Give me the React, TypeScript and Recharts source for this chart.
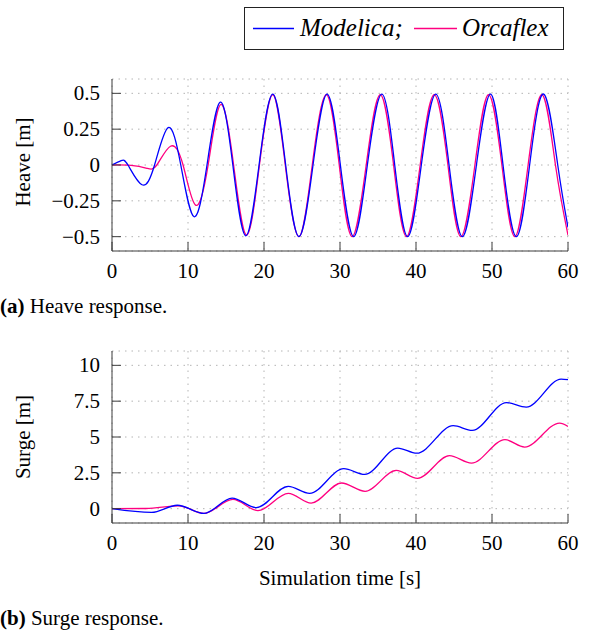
import React from "react";
import { LineChart, Line, XAxis, YAxis, CartesianGrid } from "recharts";

// axis ticks
const timeTicks = [0, 10, 20, 30, 40, 50, 60];
const heaveTicks = [-0.5, -0.25, 0, 0.25, 0.5];
const surgeTicks = [0, 2.5, 5, 7.5, 10];

// heave [m] (peaks, troughs, zero crossings)
const heaveModelicaTime = [
  0, 1.2, 2.1, 3.95, 5.6, 7.4, 9.05, 10.8, 12.5, 14.25, 15.9, 17.6, 19.35, 21.15, 22.85, 24.6, 26.45, 28.3,
  30.05, 31.8, 33.6, 35.5, 37.2, 38.9, 40.7, 42.6, 44.35, 46.1, 47.95, 49.8, 51.45, 53.2, 54.95, 56.8, 58.65, 60,
];
const heaveModelica = [
  0, 0.03, 0, -0.138, 0, 0.261, 0, -0.361, 0, 0.438, 0, -0.494, 0, 0.494, 0, -0.499, 0, 0.494,
  0, -0.5, 0, 0.495, 0, -0.5, 0, 0.495, 0, -0.5, 0, 0.495, 0, -0.5, 0, 0.495, 0, -0.436,
];
const heaveOrcaflexTime = [
  0, 2.5, 4.6, 5.9, 7.7, 9.35, 11.0, 12.65, 14.3, 16.0, 17.7, 19.4, 21.15, 22.8, 24.6, 26.35, 28.2, 29.9,
  31.6, 33.45, 35.3, 37.05, 38.75, 40.55, 42.4, 44.2, 45.9, 47.75, 49.55, 51.3, 53.0, 54.75, 56.6, 58.35, 60,
];
const heaveOrcaflex = [
  0, -0.003, -0.023, 0, 0.131, 0, -0.28, 0, 0.422, 0, -0.49, 0, 0.49, 0, -0.5, 0, 0.49, 0,
  -0.5, 0, 0.49, 0, -0.5, 0, 0.49, 0, -0.5, 0, 0.49, 0, -0.5, 0, 0.49, 0, -0.49,
];

// surge [m] (local peaks and troughs)
const surgeModelicaTime = [0, 5.2, 8.6, 12.1, 15.8, 19.0, 23.2, 26.0, 30.5, 33.25, 37.6, 40.1, 44.9, 47.4, 51.9, 54.5, 59.1, 60];
const surgeModelica = [0, -0.26, 0.24, -0.33, 0.74, 0.07, 1.56, 1.07, 2.79, 2.39, 4.23, 3.87, 5.79, 5.46, 7.4, 7.09, 9.04, 9.0];
const surgeOrcaflexTime = [0, 4.5, 8.8, 12.1, 15.9, 19.2, 23.2, 26.2, 30.2, 33.3, 37.4, 40.2, 44.4, 47.3, 51.7, 54.3, 58.9, 60];
const surgeOrcaflex = [0, 0.01, 0.2, -0.33, 0.65, -0.14, 1.07, 0.39, 1.79, 1.21, 2.67, 2.11, 3.7, 3.18, 4.81, 4.3, 5.97, 5.74];

const FONT = '"Liberation Serif", "Times New Roman", serif';
const BLUE = "#0000ff";
const PINK = "#ff0080";
const FRAME = "#3c3c3c";
const GRID = "#b4b4b4";
const TICK_LEN = 9;
const X_LABEL_GAP = 27;
const Y_LABEL_GAP = 12;

const zip = (ts: number[], vs: number[]) => ts.map((t, i) => ({ t, v: vs[i] }));
const fmt = (v: number) => (v < 0 ? "\u2212" + Math.abs(v) : String(v));

function BottomTick({ x, y, payload }: any) {
  const axisY = y - X_LABEL_GAP;
  return (
    <g>
      <line x1={x} x2={x} y1={axisY} y2={axisY - TICK_LEN} stroke={FRAME} strokeWidth={1} />
      <text x={x} y={y} textAnchor="middle" fontSize={21} fontFamily={FONT} fill="#000">
        {fmt(payload.value)}
      </text>
    </g>
  );
}

function TopTick({ x, y }: any) {
  return <line x1={x} x2={x} y1={y} y2={y + TICK_LEN} stroke={FRAME} strokeWidth={1} />;
}

function LeftTick({ x, y, payload }: any) {
  const axisX = x + Y_LABEL_GAP;
  return (
    <g>
      <line x1={axisX} x2={axisX + TICK_LEN} y1={y} y2={y} stroke={FRAME} strokeWidth={1} />
      <text x={x} y={y} dy={7} textAnchor="end" fontSize={21} fontFamily={FONT} fill="#000">
        {fmt(payload.value)}
      </text>
    </g>
  );
}

function RightTick({ x, y }: any) {
  return <line x1={x} x2={x - TICK_LEN} y1={y} y2={y} stroke={FRAME} strokeWidth={1} />;
}

function yLabel(text: string, shift: number) {
  return {
    content: ({ viewBox }: any) => {
      const cx = 23;
      const cy = viewBox.y + viewBox.height / 2 + shift;
      return (
        <text
          x={cx}
          y={cy}
          transform={`rotate(-90 ${cx} ${cy})`}
          textAnchor="middle"
          dy={7}
          fontSize={21}
          fontFamily={FONT}
          fill="#000"
        >
          {text}
        </text>
      );
    },
  };
}

function Panel({
  top,
  height,
  marginTop,
  domain,
  ticks,
  label,
  labelShift,
  modelica,
  orcaflex,
  curve,
  xLabel,
}: any) {
  return (
    <div style={{ position: "absolute", left: 0, top }}>
      <LineChart width={592} height={height} margin={{ top: marginTop, right: 24, bottom: 0, left: 12 }}>
        <CartesianGrid xAxisId="bottom" yAxisId="left" stroke={GRID} strokeDasharray="1.5 5" />
        <XAxis
          xAxisId="bottom"
          dataKey="t"
          type="number"
          domain={[0, 60]}
          ticks={timeTicks}
          allowDataOverflow
          height={height - marginTop - 172}
          tickSize={0}
          tickMargin={X_LABEL_GAP}
          tickLine={false}
          axisLine={{ stroke: FRAME }}
          tick={BottomTick}
          label={
            xLabel
              ? {
                  content: ({ viewBox }: any) => (
                    <text
                      x={viewBox.x + viewBox.width / 2}
                      y={viewBox.y + 62}
                      textAnchor="middle"
                      fontSize={21}
                      fontFamily={FONT}
                      fill="#000"
                    >
                      {xLabel}
                    </text>
                  ),
                }
              : undefined
          }
        />
        <XAxis
          xAxisId="top"
          orientation="top"
          dataKey="t"
          type="number"
          domain={[0, 60]}
          ticks={timeTicks}
          allowDataOverflow
          height={0}
          tickSize={0}
          tickMargin={0}
          tickLine={false}
          axisLine={{ stroke: FRAME }}
          tick={TopTick}
        />
        <YAxis
          yAxisId="left"
          type="number"
          domain={domain}
          ticks={ticks}
          allowDataOverflow
          width={100}
          tickSize={0}
          tickMargin={Y_LABEL_GAP}
          tickLine={false}
          axisLine={{ stroke: FRAME }}
          tick={LeftTick}
          label={yLabel(label, labelShift)}
        />
        <YAxis
          yAxisId="right"
          orientation="right"
          type="number"
          domain={domain}
          ticks={ticks}
          allowDataOverflow
          width={0}
          tickSize={0}
          tickMargin={0}
          tickLine={false}
          axisLine={{ stroke: FRAME }}
          tick={RightTick}
        />
        <Line
          xAxisId="bottom"
          yAxisId="left"
          data={orcaflex}
          dataKey="v"
          type={curve}
          stroke={PINK}
          strokeWidth={1.3}
          dot={false}
          isAnimationActive={false}
        />
        <Line
          xAxisId="bottom"
          yAxisId="left"
          data={modelica}
          dataKey="v"
          type={curve}
          stroke={BLUE}
          strokeWidth={1.3}
          dot={false}
          isAnimationActive={false}
        />
      </LineChart>
    </div>
  );
}

export default function App() {
  return (
    <div
      style={{
        position: "absolute",
        left: 0,
        top: 0,
        width: 592,
        height: 633,
        background: "#fff",
        fontFamily: FONT,
      }}
    >
      <Panel
        top={0}
        height={300}
        marginTop={79}
        domain={[-0.6, 0.6]}
        ticks={heaveTicks}
        label="Heave [m]"
        labelShift={-3}
        modelica={zip(heaveModelicaTime, heaveModelica)}
        orcaflex={zip(heaveOrcaflexTime, heaveOrcaflex)}
        curve="natural"
      />
      <Panel
        top={300}
        height={333}
        marginTop={51}
        domain={[-1, 11]}
        ticks={surgeTicks}
        label="Surge [m]"
        labelShift={0}
        modelica={zip(surgeModelicaTime, surgeModelica)}
        orcaflex={zip(surgeOrcaflexTime, surgeOrcaflex)}
        curve="monotone"
        xLabel="Simulation time [s]"
      />
      <svg
        width={592}
        height={633}
        style={{ position: "absolute", left: 0, top: 0, pointerEvents: "none" }}
      >
        <rect x={244.5} y={7.5} width={319} height={42} fill="#fff" stroke="#222" strokeWidth={1} />
        <line x1={253} x2={294} y1={28.5} y2={28.5} stroke={BLUE} strokeWidth={1.3} />
        <text x={300} y={36} fontSize={25} fontStyle="italic" fontFamily={FONT} fill="#000">
          Modelica;
        </text>
        <line x1={414} x2={457} y1={28.5} y2={28.5} stroke={PINK} strokeWidth={1.3} />
        <text x={462} y={36} fontSize={25} fontStyle="italic" fontFamily={FONT} fill="#000">
          Orcaflex
        </text>
        <text x={0} y={313} fontSize={21} fontFamily={FONT} fill="#000">
          <tspan fontWeight="bold">(a)</tspan> Heave response.
        </text>
        <text x={0} y={625} fontSize={21} fontFamily={FONT} fill="#000">
          <tspan fontWeight="bold">(b)</tspan> Surge response.
        </text>
      </svg>
    </div>
  );
}
